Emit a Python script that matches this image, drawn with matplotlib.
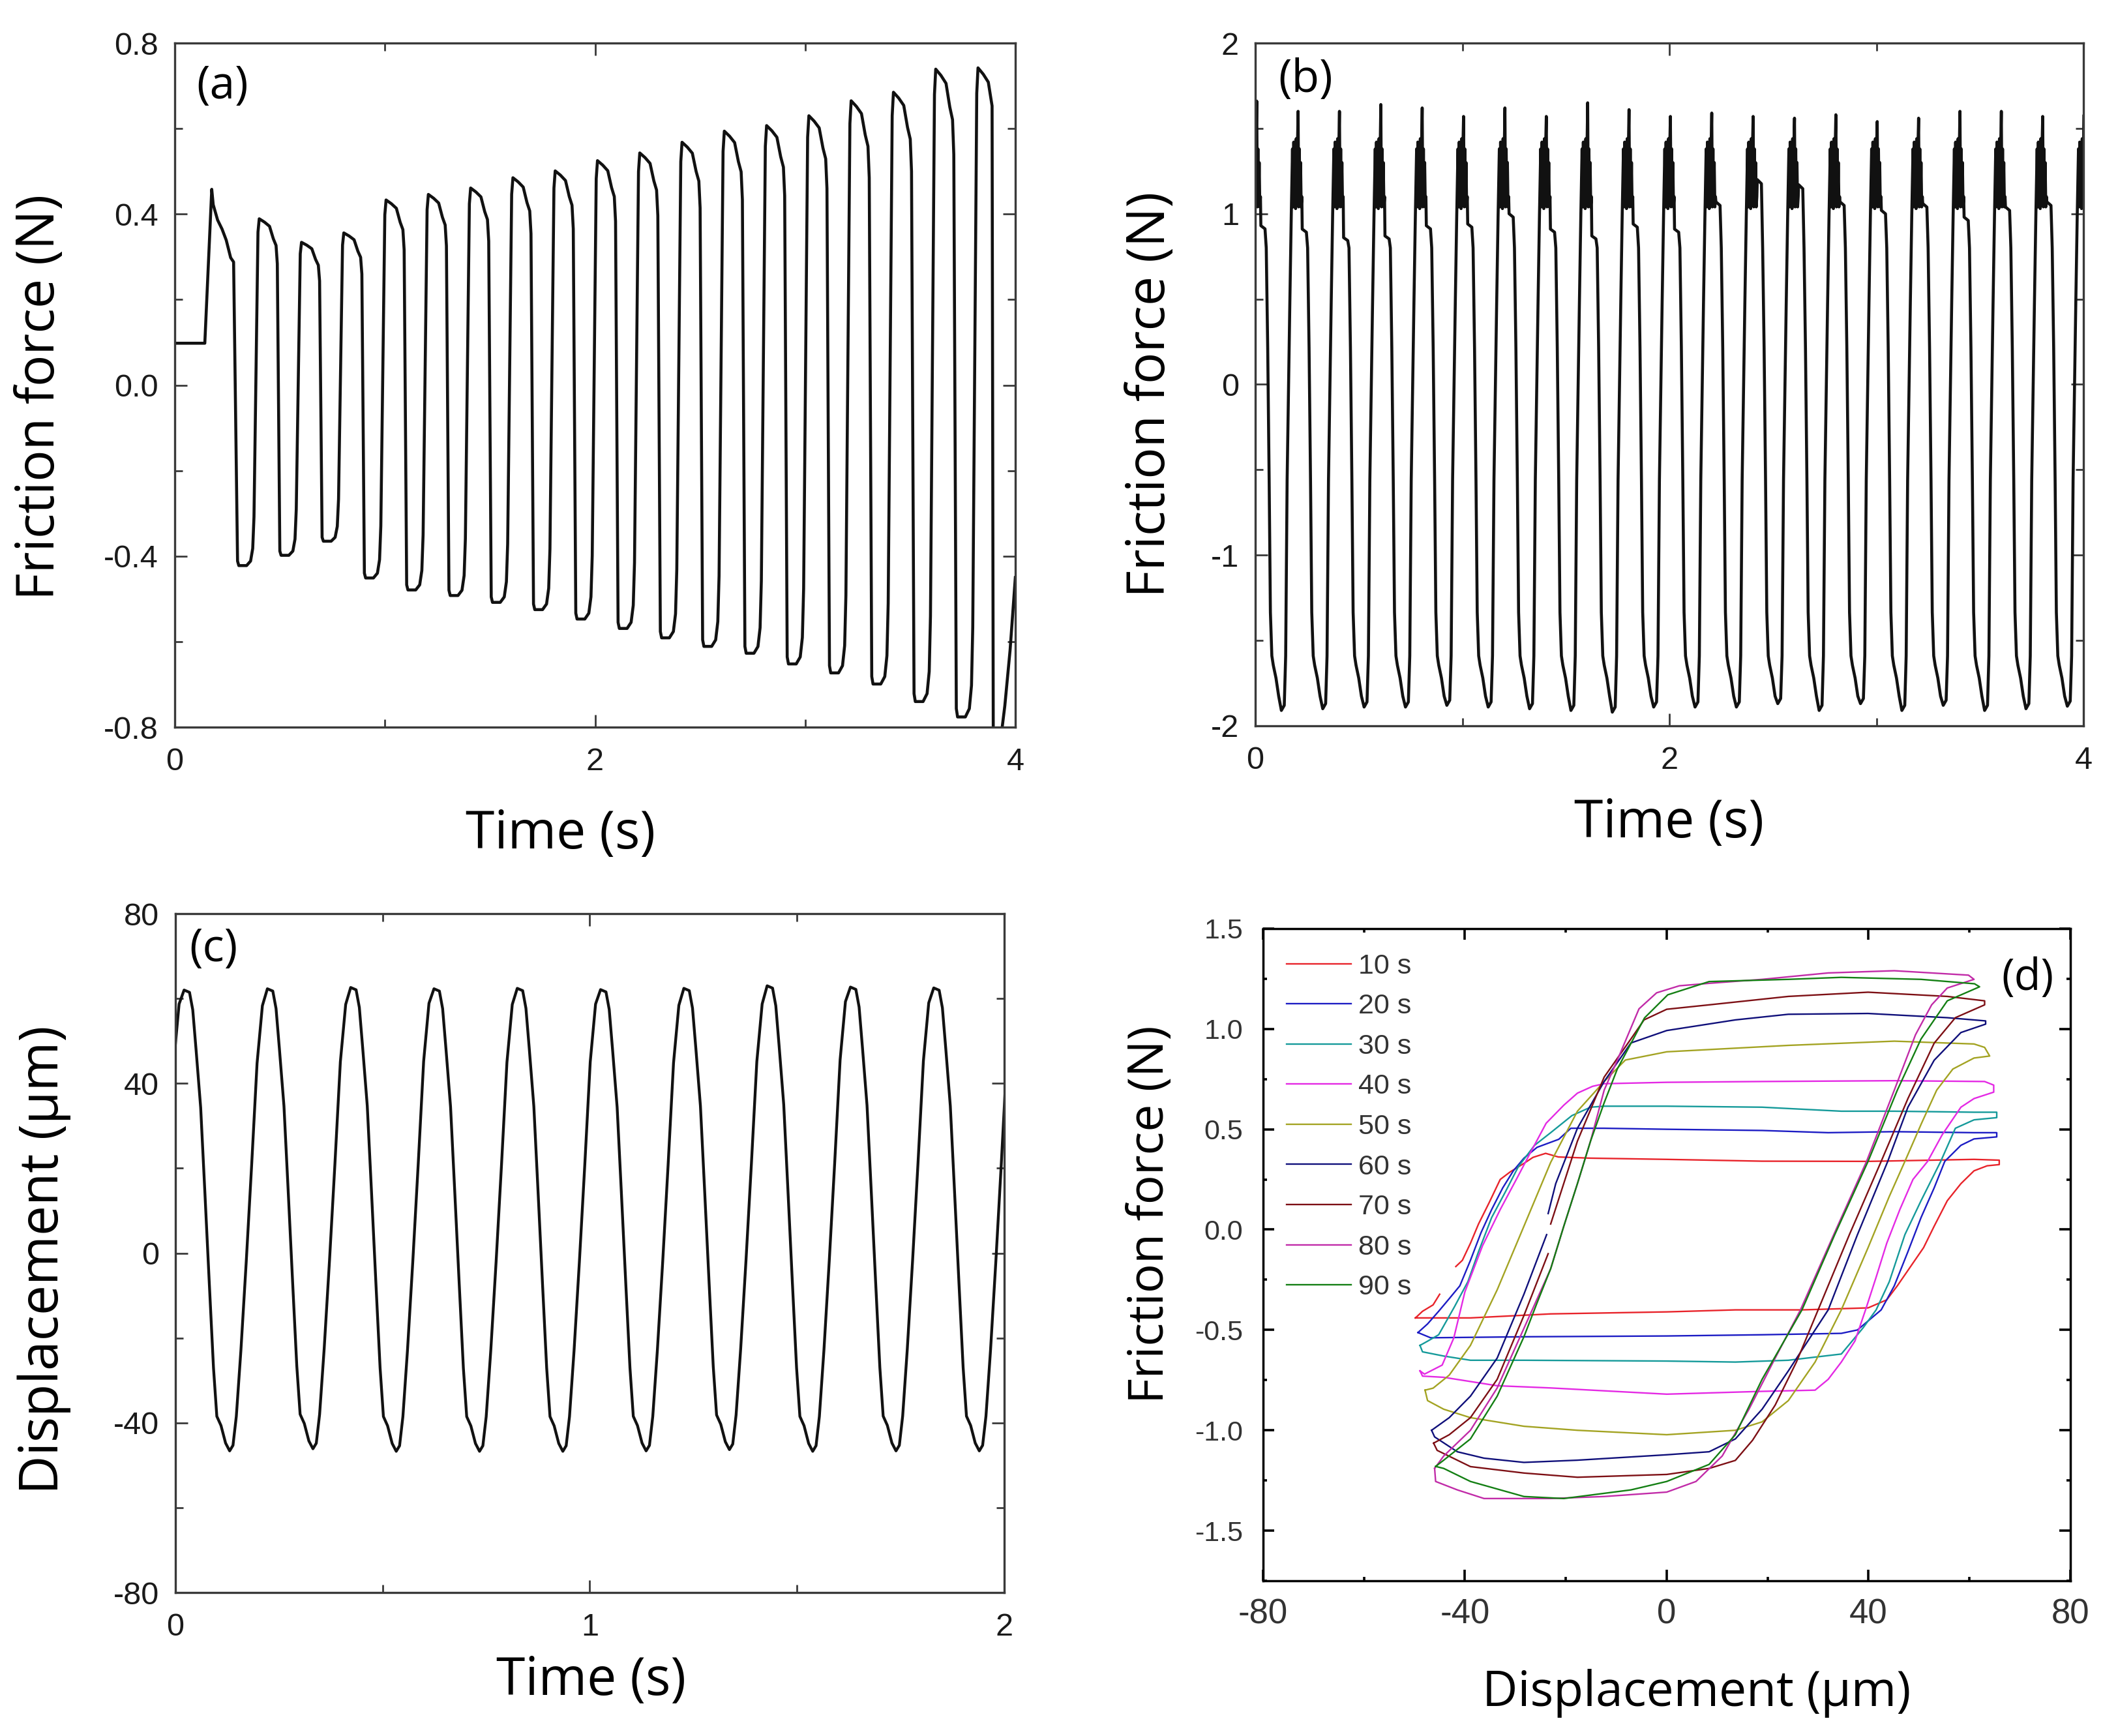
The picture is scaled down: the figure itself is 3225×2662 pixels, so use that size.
import numpy as np
import matplotlib
matplotlib.use('Agg')
import matplotlib.pyplot as plt
from matplotlib.ticker import MultipleLocator, FormatStrFormatter
from matplotlib import font_manager

# ---------------- panel (a): friction force, first run ----------------
first_t_a = [0.0, 0.143, 0.176, 0.183, 0.204, 0.225, 0.245, 0.266, 0.280]
first_y_a = [0.098, 0.098, 0.458, 0.422, 0.386, 0.365, 0.339, 0.298, 0.288]
peak_a = [0.459, 0.389, 0.334, 0.356, 0.433, 0.446, 0.461, 0.485, 0.501, 0.525,
          0.543, 0.568, 0.594, 0.607, 0.630, 0.665, 0.685, 0.739, 0.742]
trough_a = [-0.422, -0.398, -0.365, -0.451, -0.479, -0.492, -0.508, -0.525, -0.547,
            -0.569, -0.591, -0.611, -0.627, -0.652, -0.673, -0.699, -0.740, -0.776]
t_peak0_a = 0.2008
period_a = 0.2012
rise_dt_a = [-0.031, -0.025]
rise_f_a = [0.905, 0.73]
hi_dt_a = [-0.006, 0.0, 0.025, 0.049, 0.067, 0.080, 0.086]
hi_f_a = [0.92, 1.0, 0.98, 0.955, 0.88, 0.84, 0.73]
lo_dt_a = [0.098, 0.104, 0.141, 0.160]
lo_f_a = [0.975, 1.0, 1.0, 0.975]
tail_t_a = [3.895, 3.905, 3.925, 3.95, 3.975, 4.0]
tail_y_a = [-0.82, -0.86, -0.85, -0.75, -0.62, -0.45]

# ---------------- panel (b): friction force, second run ----------------
spike_b = [1.66, 1.60, 1.60, 1.64, 1.62, 1.57, 1.62, 1.57, 1.65, 1.61, 1.57,
           1.59, 1.57, 1.56, 1.58, 1.54, 1.56, 1.60, 1.60, 1.57, 1.58]
step_b = [0.93, 0.91, 0.86, 0.87, 0.93, 0.94, 1.00, 0.91, 0.87, 0.94, 0.91,
          1.07, 1.20, 1.17, 1.07, 1.02, 1.06, 0.98, 1.04, 1.07, 1.00]
trough_b = [-1.91, -1.90, -1.89, -1.89, -1.88, -1.89, -1.90, -1.91, -1.92, -1.89, -1.89,
            -1.89, -1.87, -1.91, -1.87, -1.91, -1.88, -1.91, -1.90, -1.885, -1.89]
t_spike0_b = 0.007
period_b = 0.1998
rise_dt_b = [-0.060, -0.053, -0.040, -0.033]
rise_y_b = [-1.59, -0.56, 0.47, 0.99]
pre_dt_b = [-0.027, -0.024, -0.021, -0.018, -0.015, -0.012, -0.009, -0.006, -0.003]
pre_y_b = [1.38, 1.04, 1.42, 1.06, 1.40, 1.03, 1.44, 1.05, 1.40]
post_dt_b = [0.003, 0.006, 0.009, 0.012, 0.015, 0.018]
post_y_b = [1.04, 1.38, 1.06, 1.30, 1.04, 1.10]
step_dt_b = [0.020, 0.040]
fall_dt_b = [0.046, 0.053, 0.060, 0.066, 0.073, 0.080, 0.093, 0.106]
fall_y_b = [0.80, 0.215, -0.56, -1.335, -1.59, -1.645, -1.72, -1.826]
bottom_dt_b = [0.119, 0.133]

# ---------------- panel (c): displacement ----------------
peak_c = [62.4, 62.0, 62.3, 62.6, 62.3, 62.4, 62.1, 62.4, 63.0, 62.7, 62.5, 62.5]
trough_c = [-46.5, -46.6, -46.1, -46.7, -46.7, -46.7, -46.6, -46.3, -46.7, -46.6, -46.6, -46.5]
t_peak0_c = -0.180
period_c = 0.201
phase_c = [0.0, 0.065, 0.104, 0.144, 0.199, 0.249, 0.303, 0.353, 0.393, 0.443,
           0.498, 0.547, 0.587, 0.627, 0.682, 0.746, 0.811, 0.876, 0.940]
level_c = [1.0, 0.995, 0.957, 0.870, 0.745, 0.563, 0.362, 0.180, 0.075, 0.055,
           0.017, 0.0, 0.012, 0.075, 0.218, 0.410, 0.620, 0.841, 0.966]

# ---------------- panel (d): hysteresis loops ----------------
nan = np.nan
x10 = [-49.8, -38.9, -23.0, 0.0, 13.6, 26.8, 39.9, 43.6, 45.7, 48.3, 50.9, 53.0, 55.6, 58.3,
       60.9, 63.5, 65.9, 65.9, 60.9, 39.9, 18.9, 0.0, -15.1, -21.5, -24.0, -26.5, -28.3, -31.0,
       -33.0, -35.2, -37.3, -38.9, -40.5, -41.8, nan, -45.0, -46.3, -48.4, -49.8]
y10 = [-0.44, -0.44, -0.42, -0.41, -0.40, -0.40, -0.39, -0.35, -0.28, -0.185, -0.09, 0.017, 0.144,
       0.229, 0.293, 0.318, 0.324, 0.346, 0.35, 0.34, 0.341, 0.35, 0.356, 0.362, 0.38, 0.36, 0.33,
       0.288, 0.25, 0.134, 0.028, -0.068, -0.153, -0.184, nan, -0.322, -0.375, -0.407, -0.44]
x20 = [-49.3, -46.8, -28.3, 0.0, 18.9, 34.6, 37.8, 42.5, 45.1, 47.8, 50.4, 53.0, 55.1, 58.3, 60.9,
       65.4, 65.4, 60.9, 45.1, 32.0, 18.9, 0.0, -12.4, -19.0, -21.4, -25.7, -28.3, -30.4, -32.5,
       -34.7, -36.8, -38.9, -41.0, -43.1, -45.2, -47.4, -49.3]
y20 = [-0.513, -0.539, -0.534, -0.53, -0.524, -0.517, -0.50, -0.40, -0.28, -0.11, 0.06, 0.208, 0.34,
       0.42, 0.452, 0.462, 0.483, 0.483, 0.488, 0.483, 0.494, 0.50, 0.505, 0.505, 0.45, 0.41, 0.356,
       0.293, 0.208, 0.10, -0.015, -0.153, -0.28, -0.344, -0.407, -0.47, -0.513]
x30 = [-48.9, -48.4, -44.2, -38.9, -28.3, 0.0, 13.6, 24.1, 34.6, 38.9, 41.5, 44.1, 47.2, 50.4,
       54.3, 57.2, 60.9, 65.4, 65.4, 60.9, 45.1, 34.6, 18.9, 0.0, -12.4, -15.1, -18.8, -23.0, -26.2,
       -29.4, -32.0, -34.7, -37.3, -39.4, -42.1, -45.2, -47.4, -48.9]
y30 = [-0.577, -0.609, -0.63, -0.651, -0.651, -0.655, -0.66, -0.651, -0.62, -0.49, -0.40, -0.26,
       -0.025, 0.144, 0.34, 0.505, 0.547, 0.558, 0.585, 0.585, 0.59, 0.59, 0.61, 0.615, 0.615, 0.61,
       0.568, 0.483, 0.42, 0.314, 0.187, 0.06, -0.11, -0.259, -0.386, -0.524, -0.556, -0.577]
x40 = [-48.9, -48.4, -44.2, -33.6, -23.0, 0.0, 18.9, 29.4, 32.0, 34.6, 37.3, 39.4, 41.5, 43.6,
       46.2, 48.8, 51.7, 54.6, 58.3, 60.9, 64.8, 64.8, 63.0, 45.1, 18.9, 0.0, -12.4, -14.7, -17.7,
       -20.4, -23.9, -27.3, -29.6, -33.0, -36.5, -40.0, -42.2, -44.5, -48.0, -48.9]
y40 = [-0.704, -0.73, -0.736, -0.778, -0.789, -0.82, -0.806, -0.80, -0.746, -0.66, -0.555, -0.40,
       -0.237, -0.068, 0.10, 0.25, 0.34, 0.473, 0.61, 0.653, 0.685, 0.72, 0.738, 0.742, 0.738, 0.734,
       0.727, 0.714, 0.68, 0.62, 0.53, 0.37, 0.26, 0.10, -0.08, -0.31, -0.54, -0.675, -0.72, -0.704]
x50 = [-47.9, -47.4, -44.2, -38.9, -28.3, -17.7, 0.0, 13.6, 18.9, 24.1, 29.4, 34.6, 39.9, 44.1,
       47.2, 50.5, 53.5, 56.7, 60.9, 64.0, 63.0, 60.9, 45.1, 24.1, 0.0, -8.2, -12.4, -17.7, -23.0,
       -28.3, -33.6, -38.9, -43.1, -46.3, -47.9]
y50 = [-0.80, -0.852, -0.895, -0.937, -0.98, -1.0, -1.022, -1.0, -0.958, -0.852, -0.66, -0.40,
       -0.09, 0.165, 0.34, 0.53, 0.695, 0.80, 0.855, 0.865, 0.908, 0.925, 0.939, 0.918, 0.886, 0.845,
       0.738, 0.59, 0.335, 0.017, -0.30, -0.577, -0.725, -0.79, -0.80]
x60 = [-46.6, -46.0, -41.5, -36.2, -28.3, -17.7, 0.0, 8.4, 13.6, 18.9, 24.1, 32.0, 37.8, 43.8,
       47.8, 53.0, 58.3, 63.2, 63.2, 55.6, 39.9, 24.1, 13.6, 0.0, -7.1, -12.4, -17.7, -22.0, -23.5,
       nan, -23.8, -28.3, -33.6, -38.9, -43.1, -46.6]
y60 = [-1.0, -1.033, -1.107, -1.139, -1.16, -1.149, -1.122, -1.107, -1.043, -0.895, -0.704, -0.40,
       -0.025, 0.34, 0.61, 0.844, 0.982, 1.024, 1.04, 1.056, 1.077, 1.073, 1.045, 0.992, 0.93, 0.738,
       0.505, 0.229, 0.08, nan, -0.025, -0.322, -0.64, -0.83, -0.937, -1.0]
x70 = [-46.2, -45.5, -38.9, -28.3, -17.7, 0.0, 8.4, 13.6, 17.0, 21.5, 25.7, 30.0, 36.2, 42.5,
       47.8, 53.0, 57.2, 63.0, 63.0, 55.6, 39.9, 24.1, 8.4, 0.0, -4.5, -7.1, -12.4, -17.7, -23.0,
       nan, -23.5, -28.3, -33.6, -38.9, -43.1, -46.2]
y70 = [-1.064, -1.10, -1.181, -1.213, -1.234, -1.22, -1.19, -1.15, -1.05, -0.874, -0.66, -0.40,
       -0.025, 0.34, 0.653, 0.929, 1.056, 1.12, 1.14, 1.162, 1.183, 1.162, 1.12, 1.098, 1.045, 0.95,
       0.76, 0.441, 0.028, nan, -0.12, -0.428, -0.746, -0.937, -1.022, -1.064]
x80 = [-46.0, -45.8, -41.5, -36.2, -23.0, -12.4, 0.0, 5.8, 11.0, 16.3, 21.5, 26.5, 33.1, 39.6,
       45.1, 49.3, 52.5, 55.6, 60.9, 59.8, 45.1, 32.0, 18.9, 8.3, 2.5, -2.0, -5.5, -9.8, -12.4,
       -15.1, -17.7, -20.4, -23.0, -28.3, -33.6, -38.9, -44.2, -46.0]
y80 = [-1.19, -1.255, -1.297, -1.34, -1.34, -1.33, -1.308, -1.255, -1.128, -0.895, -0.64, -0.40,
       -0.025, 0.34, 0.695, 0.971, 1.12, 1.204, 1.247, 1.268, 1.29, 1.279, 1.247, 1.227, 1.215, 1.18,
       1.10, 0.844, 0.695, 0.441, 0.229, 0.017, -0.195, -0.492, -0.789, -1.0, -1.128, -1.19]
x90 = [-45.8, -44.2, -38.9, -28.3, -20.4, -7.1, 0.0, 8.4, 13.6, 18.9, 26.8, 33.3, 39.9, 45.7,
       50.4, 55.6, 62.0, 61.0, 50.4, 34.6, 24.1, 8.4, 0.2, -4.4, -9.8, -12.4, -15.1, -17.7, -20.4,
       -23.0, -25.7, -28.3, -33.6, -38.9, -44.2, -45.8]
y90 = [-1.18, -1.19, -1.255, -1.33, -1.34, -1.297, -1.255, -1.17, -1.022, -0.746, -0.40, -0.025,
       0.34, 0.695, 0.95, 1.14, 1.21, 1.225, 1.247, 1.257, 1.247, 1.236, 1.17, 1.055, 0.80, 0.632,
       0.441, 0.229, 0.017, -0.195, -0.365, -0.534, -0.83, -1.043, -1.149, -1.18]
loop_labels = ['10 s', '20 s', '30 s', '40 s', '50 s', '60 s', '70 s', '80 s', '90 s']
loop_colors = ['#e8232a', '#1c1cc4', '#159a9a', '#e429e4', '#a3a322',
               '#0f0f7a', '#7d0f14', '#c12ba8', '#137f13']

# ---------------- fonts ----------------
plt.rcParams['axes.unicode_minus'] = False
plt.rcParams['font.family'] = ['Liberation Sans', 'DejaVu Sans']
names = {f.name for f in font_manager.fontManager.ttflist}
if 'Liberation Sans Narrow' in names:
    NARROW = ['Liberation Sans Narrow']
else:
    NARROW = ['Liberation Sans', 'DejaVu Sans']
LABEL_FONT = ['Open Sans', 'DejaVu Sans']


def build_a():
    t, y = list(first_t_a), list(first_y_a)
    last = len(peak_a) - 1
    for k in range(len(peak_a)):
        tp = t_peak0_a + k * period_a
        if k > 0:
            for dt, f in zip(rise_dt_a, rise_f_a):
                t.append(tp + dt)
                y.append(f * trough_a[k - 1])
            for dt, f in zip(hi_dt_a, hi_f_a):
                if k == last and dt > 0.07:
                    continue
                t.append(tp + dt)
                y.append(f * peak_a[k])
        if k < len(trough_a):
            for dt, f in zip(lo_dt_a, lo_f_a):
                t.append(tp + dt)
                y.append(f * trough_a[k])
    return t + tail_t_a, y + tail_y_a


def build_b():
    t, y = [], []
    for k in range(len(spike_b)):
        ts = t_spike0_b + k * period_b
        pts = list(zip(rise_dt_b, rise_y_b)) + list(zip(pre_dt_b, pre_y_b))
        pts += [(0.0, spike_b[k])] + list(zip(post_dt_b, post_y_b))
        pts += [(step_dt_b[0], step_b[k]), (step_dt_b[1], step_b[k] * 0.98)]
        pts += list(zip(fall_dt_b, fall_y_b))
        pts += [(bottom_dt_b[0], trough_b[k]), (bottom_dt_b[1], trough_b[k] + 0.03)]
        for dt, v in pts:
            t.append(ts + dt)
            y.append(v)
    return t, y


def build_c():
    t, y = [], []
    for k in range(len(peak_c)):
        tp = t_peak0_c + k * period_c
        for ph, u in zip(phase_c, level_c):
            t.append(tp + ph * period_c)
            y.append(trough_c[k] + u * (peak_c[k] - trough_c[k]))
    return t, y


def style_time_axes(ax):
    for s in ax.spines.values():
        s.set_color('#3a3a3a')
        s.set_linewidth(2.4)
    ax.tick_params(which='both', direction='in', top=True, right=True,
                   colors='#3a3a3a', labelcolor='#1a1a1a', labelsize=35)
    ax.tick_params(which='major', length=14, width=2.0, pad=18)
    ax.tick_params(which='minor', length=8.5, width=2.0)
    ax.tick_params(axis='x', pad=22)


fig = plt.figure(figsize=(32.25, 26.62), dpi=100)
ax_a = fig.add_axes([0.0831, 0.5811, 0.3997, 0.3941])
ax_b = fig.add_axes([0.5969, 0.5819, 0.3938, 0.3933])
ax_c = fig.add_axes([0.0834, 0.0826, 0.3941, 0.3911])
ax_d = fig.add_axes([0.6006, 0.0894, 0.3839, 0.3757])

# (a)
ta, ya = build_a()
ax_a.plot(ta, ya, color='#111111', lw=3.3)
ax_a.set_xlim(0, 4)
ax_a.set_ylim(-0.8, 0.8)
ax_a.xaxis.set_major_locator(MultipleLocator(2))
ax_a.xaxis.set_minor_locator(MultipleLocator(1))
ax_a.yaxis.set_major_locator(MultipleLocator(0.4))
ax_a.yaxis.set_minor_locator(MultipleLocator(0.2))
ax_a.yaxis.set_major_formatter(FormatStrFormatter('%.1f'))
ax_a.xaxis.set_major_formatter(FormatStrFormatter('%d'))
style_time_axes(ax_a)
ax_a.set_xlabel('Time (s)', fontsize=58, family=LABEL_FONT)
ax_a.set_ylabel('Friction force (N)', fontsize=58, family=LABEL_FONT)
ax_a.xaxis.set_label_coords(0.459, -0.157)
ax_a.yaxis.set_label_coords(-0.160, 0.483)
ax_a.text(0.057, 0.936, '(a)', transform=ax_a.transAxes, fontsize=50,
          family=LABEL_FONT, ha='center', va='center')

# (b)
tb, yb = build_b()
ax_b.plot(tb, yb, color='#111111', lw=3.3)
ax_b.set_xlim(0, 4)
ax_b.set_ylim(-2, 2)
ax_b.xaxis.set_major_locator(MultipleLocator(2))
ax_b.xaxis.set_minor_locator(MultipleLocator(1))
ax_b.yaxis.set_major_locator(MultipleLocator(1))
ax_b.yaxis.set_minor_locator(MultipleLocator(0.5))
ax_b.yaxis.set_major_formatter(FormatStrFormatter('%d'))
ax_b.xaxis.set_major_formatter(FormatStrFormatter('%d'))
style_time_axes(ax_b)
ax_b.set_xlabel('Time (s)', fontsize=58, family=LABEL_FONT)
ax_b.set_ylabel('Friction force (N)', fontsize=58, family=LABEL_FONT)
ax_b.xaxis.set_label_coords(0.50, -0.143)
ax_b.yaxis.set_label_coords(-0.126, 0.485)
ax_b.text(0.061, 0.946, '(b)', transform=ax_b.transAxes, fontsize=50,
          family=LABEL_FONT, ha='center', va='center')

# (c)
tc, yc = build_c()
ax_c.plot(tc, yc, color='#111111', lw=3.1)
ax_c.set_xlim(0, 2)
ax_c.set_ylim(-80, 80)
ax_c.xaxis.set_major_locator(MultipleLocator(1))
ax_c.xaxis.set_minor_locator(MultipleLocator(0.5))
ax_c.yaxis.set_major_locator(MultipleLocator(40))
ax_c.yaxis.set_minor_locator(MultipleLocator(20))
ax_c.yaxis.set_major_formatter(FormatStrFormatter('%d'))
ax_c.xaxis.set_major_formatter(FormatStrFormatter('%d'))
style_time_axes(ax_c)
ax_c.set_xlabel('Time (s)', fontsize=58, family=LABEL_FONT)
ax_c.set_ylabel('Displacement (\u03bcm)', fontsize=59, family=LABEL_FONT)
ax_c.xaxis.set_label_coords(0.502, -0.130)
ax_c.yaxis.set_label_coords(-0.158, 0.49)
ax_c.text(0.046, 0.947, '(c)', transform=ax_c.transAxes, fontsize=50,
          family=LABEL_FONT, ha='center', va='center')

# (d)
loops_x = [x10, x20, x30, x40, x50, x60, x70, x80, x90]
loops_y = [y10, y20, y30, y40, y50, y60, y70, y80, y90]
for lx, ly, lab, col in zip(loops_x, loops_y, loop_labels, loop_colors):
    ax_d.plot(lx, ly, color=col, lw=1.7, label=lab)
ax_d.set_xlim(-80, 80)
ax_d.set_ylim(-1.75, 1.5)
ax_d.xaxis.set_major_locator(MultipleLocator(40))
ax_d.xaxis.set_minor_locator(MultipleLocator(20))
ax_d.yaxis.set_major_locator(MultipleLocator(0.5))
ax_d.yaxis.set_minor_locator(MultipleLocator(0.25))
ax_d.yaxis.set_major_formatter(FormatStrFormatter('%.1f'))
ax_d.xaxis.set_major_formatter(FormatStrFormatter('%d'))
for s in ax_d.spines.values():
    s.set_color('black')
    s.set_linewidth(2.5)
ax_d.tick_params(which='both', direction='in', top=True, right=True,
                 colors='black', labelcolor='#333333')
ax_d.tick_params(which='major', length=12, width=2.6)
ax_d.tick_params(which='minor', length=4.5, width=2.6)
ax_d.tick_params(axis='y', labelsize=31, pad=22)
ax_d.tick_params(axis='x', labelsize=38, pad=19)
for lbl in ax_d.get_xticklabels() + ax_d.get_yticklabels():
    lbl.set_family(NARROW)
ax_d.set_xlabel('Displacement (\u03bcm)', fontsize=54, family=LABEL_FONT)
ax_d.set_ylabel('Friction force (N)', fontsize=54, family=LABEL_FONT)
ax_d.xaxis.set_label_coords(0.537, -0.172)
ax_d.yaxis.set_label_coords(-0.139, 0.562)
for lab in (ax_a.xaxis.label, ax_a.yaxis.label, ax_b.xaxis.label, ax_b.yaxis.label,
            ax_c.xaxis.label, ax_c.yaxis.label, ax_d.xaxis.label, ax_d.yaxis.label):
    lab.set_va('center')
    lab.set_ha('center')
ax_d.text(0.947, 0.924, '(d)', transform=ax_d.transAxes, fontsize=48,
          family=LABEL_FONT, ha='center', va='center')
leg = ax_d.legend(loc='upper left', bbox_to_anchor=(0.029, 0.962), frameon=False,
                  fontsize=31, handlelength=2.3, handletextpad=0.25, labelspacing=0.50,
                  borderpad=0, borderaxespad=0)
for txt in leg.get_texts():
    txt.set_color('#333333')

fig.savefig('out.png', dpi=100)
